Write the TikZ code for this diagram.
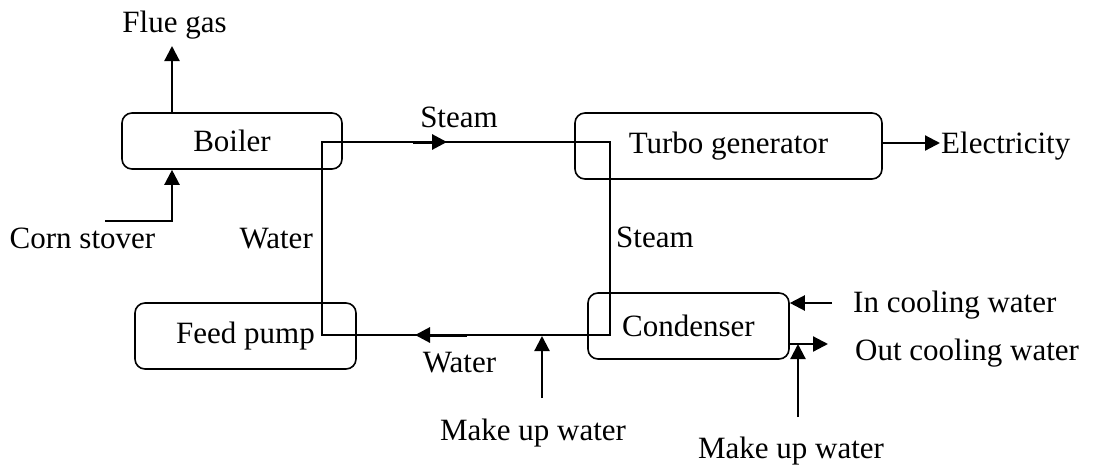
\documentclass[tikz,border=0pt]{standalone}
\usepackage{fontspec}
\setmainfont{Liberation Serif}
\usetikzlibrary{arrows.meta}
\begin{document}
\begin{tikzpicture}[x=1pt,y=-1pt,
  unit/.style={draw, line width=1.6pt, rounded corners=10pt, inner sep=0pt,
    font=\fontsize{31}{36}\selectfont},
  lbl/.style={inner sep=0pt, font=\fontsize{31}{36}\selectfont},
  flow/.style={line width=1.6pt},
  arr/.style={line width=2.2pt, -{Triangle[length=15pt,width=15pt]}},
  flowmarker/.style={line width=3pt, -{Triangle[length=15pt,width=15pt]}}]
\useasboundingbox (0,0) rectangle (1104,466);
% units
\node[unit, minimum width=220pt, minimum height=56pt] (boiler) at (232,141) {Boiler};
\node[unit, minimum width=307pt, minimum height=66pt] (turbo) at (728.5,146) {Turbo generator};
\node[unit, minimum width=201pt, minimum height=66pt] (cond) at (688.5,326) {Condenser};
\node[unit, minimum width=221pt, minimum height=66pt] (pump) at (245.5,336) {Feed pump};
% loop corners
\coordinate (bw) at (322,142);
\coordinate (tw) at (610,142);
\coordinate (cw) at (610,335);
\coordinate (pw) at (322,335);
\draw[flow] (bw) -- (tw) -- (cw) -- (pw) -- cycle;
% flow markers
\coordinate (s1) at (413,142); \coordinate (s2) at (447,142);
\draw[flowmarker] (s1) -- (s2);
\coordinate (w1) at (467,335); \coordinate (w2) at (415,335);
\draw[flowmarker] (w1) -- (w2);
% boiler streams
\coordinate (flue) at (172,46);
\draw[arr] (boiler.north -| flue) -- (flue);
\coordinate (corn) at (105,221);
\draw[arr] (corn) -- (172,221) -- (boiler.south -| flue);
% electricity
\coordinate (elec) at (940,143);
\draw[arr] (turbo.east |- elec) -- (elec);
% condenser streams
\coordinate (inc) at (832,303);
\draw[arr] (inc) -- (cond.east |- inc);
\coordinate (outc) at (828,344);
\draw[arr] (cond.east |- outc) -- (outc);
\coordinate (mu2) at (798,417);
\draw[arr] (mu2) -- (798,344);
\coordinate (mu1) at (542,398);
\draw[arr] (mu1) -- (542,336);
% labels
\node[lbl, anchor=base] (lflue) at (174.5,32) {Flue gas};
\node[lbl, anchor=base] (lcorn) at (82.5,248) {Corn stover};
\node[lbl, anchor=base east] (lwater1) at (313,248) {Water};
\node[lbl, anchor=base] (lsteam1) at (459,127) {Steam};
\node[lbl, anchor=base west] (lsteam2) at (616,247) {Steam};
\node[lbl, anchor=base west] (lelec) at (941,153) {Electricity};
\node[lbl, anchor=base west] (lin) at (853,312) {In cooling water};
\node[lbl, anchor=base west] (lout) at (855,360) {Out cooling water};
\node[lbl, anchor=base] (lwater2) at (459.5,372) {Water};
\node[lbl, anchor=base] (lmu1) at (533,440) {Make up water};
\node[lbl, anchor=base] (lmu2) at (791,458) {Make up water};
\end{tikzpicture}
\end{document}
